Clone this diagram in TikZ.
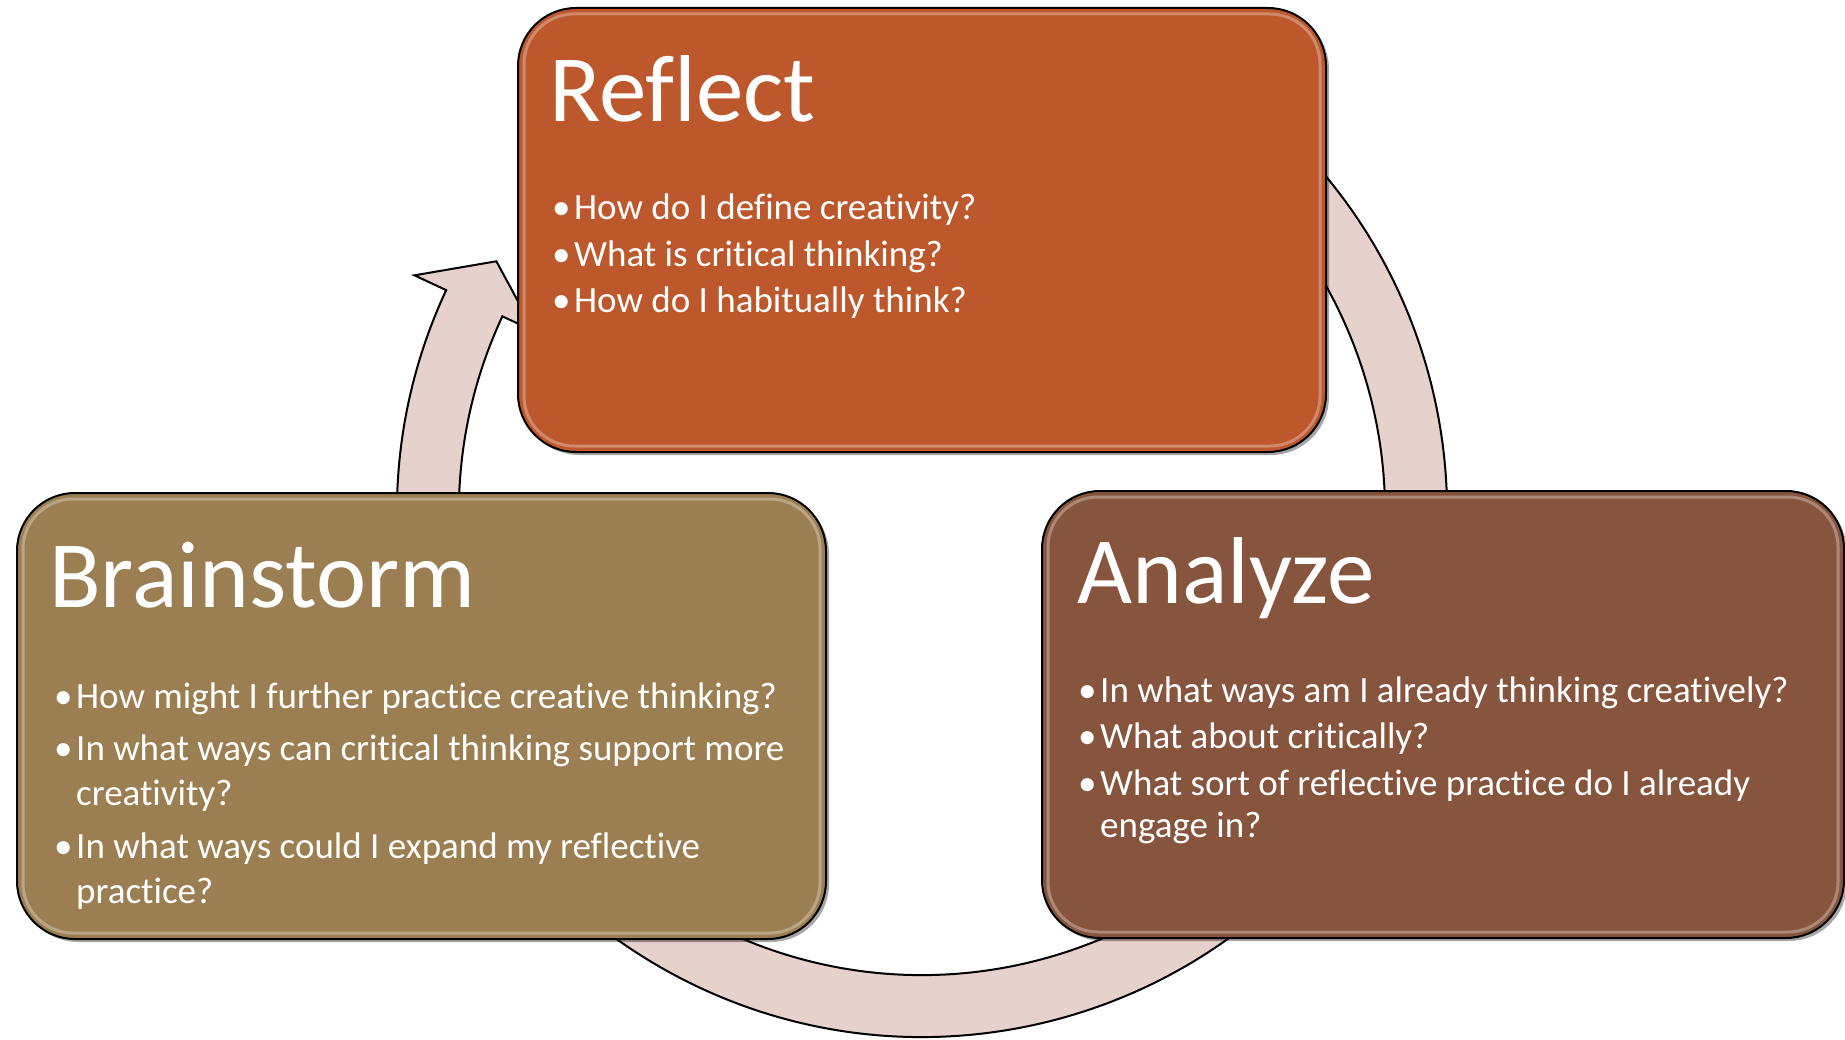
\documentclass[tikz,border=0pt]{standalone}
\usepackage{fontspec}
\setmainfont{Carlito}[Ligatures=NoCommon]
\usetikzlibrary{calc,shadows}
\definecolor{reflectfill}{HTML}{BD582C}
\definecolor{brainfill}{HTML}{9B7F52}
\definecolor{analyzefill}{HTML}{87553E}
\definecolor{ringfill}{HTML}{E6D1CC}
\tikzstyle{panel}=[draw=black,line width=2pt,rounded corners=58pt,inner sep=0pt,
  drop shadow={shadow xshift=3pt,shadow yshift=-3pt,opacity=.35,fill=black}]
\tikzstyle{glare}=[draw=white,opacity=.3,line width=3pt,rounded corners=50pt]
\tikzstyle{title}=[anchor=base west,inner sep=0pt,text=white,font=\fontsize{95}{112}\selectfont]
\tikzstyle{item}=[anchor=base west,inner sep=0pt,text=white,font=\fontsize{37}{45}\selectfont]
\tikzstyle{cyclearrow}=[fill=ringfill,draw=black,line width=2pt,line join=miter]
\newcommand{\bul}{\makebox[22pt][l]{•}}
\newcommand{\cont}{\hspace*{22pt}}

\begin{document}
\begin{tikzpicture}[x=1pt,y=-1pt]
    \useasboundingbox (0,0) rectangle (1845,1040);
    % the cycle ring, behind the boxes
    \coordinate (c) at (922,512);
    \draw[cyclearrow] ($(c)+(-60:525)$) arc[start angle=-60,end angle=205,radius=525]
        -- ($(c)+(205:560)$) -- ($(c)+(210.5:494)$) -- ($(c)+(205:428)$) -- ($(c)+(205:463)$)
        arc[start angle=205,end angle=-60,radius=463] -- cycle;

    \node[panel,fill=reflectfill,minimum width=808pt,minimum height=444pt] (reflect) at (922,230) {};
    \node[panel,fill=brainfill,minimum width=809pt,minimum height=446pt] (brain) at (421.5,716) {};
    \node[panel,fill=analyzefill,minimum width=802pt,minimum height=447pt] (analyze) at (1443,714.5) {};
    \foreach \p in {reflect,brain,analyze}
    \draw[glare] ([shift={(7pt,7pt)}]\p.south west) rectangle ([shift={(-7pt,-7pt)}]\p.north east);

    \node[title] (rt) at (549,122) {Reflect};
    \node[item] (r1) at (552,220) {\bul How do I define creativity?};
    \node[item] (r2) at (552,267) {\bul What is critical thinking?};
    \node[item] (r3) at (552,313) {\bul How do I habitually think?};

    \node[title] (bt) at (49,607) {Brainstorm};
    \node[item] (b1) at (54,708) {\bul How might I further practice creative thinking?};
    \node[item] (b2) at (54,760) {\bul In what ways can critical thinking support more};
    \node[item] (b2a) at (54,805) {\cont creativity?};
    \node[item] (b3) at (54,858) {\bul In what ways could I expand my reflective};
    \node[item] (b3a) at (54,903) {\cont practice?};

    \node[title] (at) at (1077,603) {Analyze};
    \node[item] (a1) at (1078,702) {\bul In what ways am I already thinking creatively?};
    \node[item] (a2) at (1078,748) {\bul What about critically?};
    \node[item] (a3) at (1078,795) {\bul What sort of reflective practice do I already};
    \node[item] (a3a) at (1078,837) {\cont engage in?};
\end{tikzpicture}
\end{document}
